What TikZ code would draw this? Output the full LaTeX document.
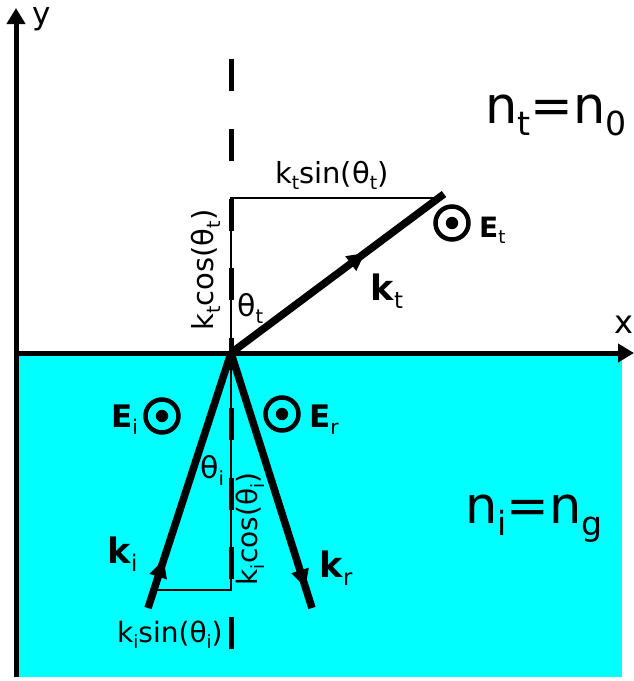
\documentclass[tikz,border=0pt]{standalone}
\usepackage{fontspec}
\setmainfont{DejaVu Sans}
\usepackage{graphicx}
\usetikzlibrary{arrows.meta,decorations.markings}
\definecolor{water}{RGB}{0,255,255}
\newcommand\subs[1]{\raisebox{-0.24em}{\scalebox{0.65}{#1}}}
\newcommand\fs[1]{\fontsize{#1}{#1}\selectfont}
\begin{document}
\begin{tikzpicture}[x=1pt,y=-1pt,
  axisline/.style={line width=5pt,-{Triangle[length=16pt,width=18pt]}},
  wave/.style={line width=7.5pt,postaction={decorate}},
  guide/.style={line width=2pt},
  normal/.style={line width=5pt,dash pattern=on 32pt off 37.75pt},
  ecirc/.style={circle,draw,line width=4.5pt,minimum size=33pt,inner sep=0pt},
  lbl/.style={inner sep=0pt,anchor=base west},
  tipat/.style={decoration={markings,mark=at position #1 with {\arrow{Triangle[length=18pt,width=17pt]}}}}
]
\useasboundingbox (0,0) rectangle (634,681);
% medium
\fill[water] (16,353) rectangle (622,677);
% points
\coordinate (O) at (231,353);
\coordinate (kt) at (444,194);
\coordinate (ki) at (148,608);
\coordinate (kr) at (312,608);
\coordinate (tc) at (231,198);
\coordinate (ts) at (440,198);
\coordinate (ic) at (231,590);
\coordinate (is) at (154,590);
\coordinate (ntop) at (231,59);
\coordinate (nbot) at (231,649);
\coordinate (yb) at (16,677);
\coordinate (yt) at (16,8);
\coordinate (xl) at (16,353);
\coordinate (xr) at (634,353);
% guides
\draw[guide] (ts) -- (tc) -- (O);
\draw[guide] (O) -- (ic) -- (is);
\draw[normal] (ntop) -- (nbot);
% wave vectors
\draw[wave,tipat=0.63] (O) -- (kt);
\draw[wave,tipat=0.19] (ki) -- (O);
\draw[wave,tipat=0.92] (O) -- (kr);
% axes
\draw[axisline] (yb) -- (yt);
\draw[axisline] (xl) -- (xr);
\node[lbl] (ylab) at (32,24) {\fs{31}y};
\node[lbl] (xlab) at (614,333) {\fs{32}x};
% fields
\node[ecirc] (Et) at (452,223) {};
\fill (Et.center) circle (6.2);
\node[ecirc] (Ei) at (162,416) {};
\fill (Ei.center) circle (6.2);
\node[ecirc] (Er) at (282,414) {};
\fill (Er.center) circle (6.2);
\node[lbl] (Etl) at (479,237) {\fs{28}\textbf{E}\subs{t}};
\node[lbl] (Eil) at (111,427) {\fs{31}\textbf{E}\subs{i}};
\node[lbl] (Erl) at (309,427) {\fs{31}\textbf{E}\subs{r}};
% vector labels
\node[lbl] (ktl) at (370,300) {\fs{35}\textbf{k}\subs{t}};
\node[lbl] (kil) at (107,563) {\fs{35}\textbf{k}\subs{i}};
\node[lbl] (krl) at (319,577) {\fs{35}\textbf{k}\subs{r}};
% components
\node[lbl] (kts) at (275,183) {\fs{29}k\subs{t}sin(θ\subs{t})};
\node[rotate=90,inner sep=0pt] (ktc) at (206,270) {\fs{29}k\subs{t}cos(θ\subs{t})};
\node[lbl] (tht) at (237,316) {\fs{30}θ\subs{t}};
\node[lbl] (thi) at (200,478) {\fs{30}θ\subs{i}};
\node[rotate=90,inner sep=0pt] (kic) at (250,529) {\fs{28}k\subs{i}cos(θ\subs{i})};
\node[lbl] (kis) at (117,642) {\fs{28}k\subs{i}sin(θ\subs{i})};
% media
\node[lbl] (nt) at (485,123) {\fs{51}n\subs{t}=n\subs{0}};
\node[lbl] (ni) at (465,523) {\fs{51}n\subs{i}=n\subs{g}};
\end{tikzpicture}
\end{document}
